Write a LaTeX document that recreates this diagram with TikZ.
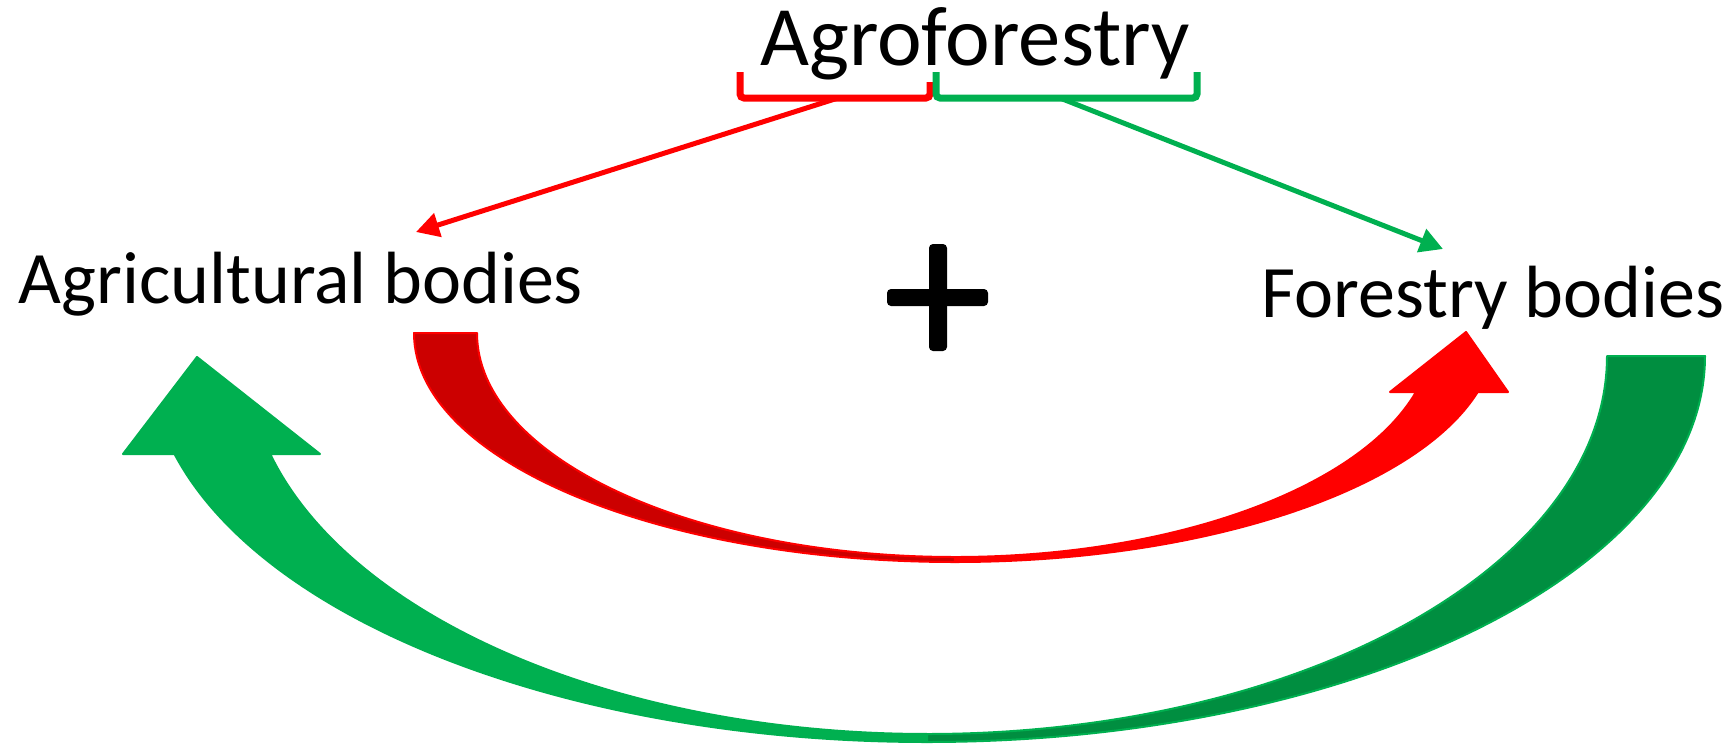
\documentclass[tikz,border=0pt]{standalone}
\usepackage{fontspec}
\setmainfont{Carlito}
\usepackage{tikz}
\usetikzlibrary{arrows.meta}
\usepackage{xcolor}
\definecolor{brightred}{RGB}{255,0,0}
\definecolor{darkred}{RGB}{204,0,0}
\definecolor{brightgreen}{RGB}{0,176,80}
\definecolor{darkgreen}{RGB}{0,142,64}
\tikzset{
  bigtext/.style={font=\fontsize{42.3}{50}\selectfont, inner sep=0pt, anchor=base},
  bodytext/.style={font=\fontsize{37}{44}\selectfont, inner sep=0pt, anchor=base},
  brace/.style={line width=3.5pt, rounded corners=2pt},
  thinarrow/.style={line width=2.5pt, -{Triangle[length=11.5pt,width=12pt]}},
  ribbon/.style={line width=1pt, line join=round}
}

\begin{document}
\begin{tikzpicture}[x=0.5pt, y=-0.5pt]
    \useasboundingbox (0,0) rectangle (1736,745);

    \node[bigtext] (agro) at (975,65) {Agroforestry};
    \node[bodytext] (agri) at (301,303) {Agricultural bodies};
    \node[bodytext] (forest) at (1493,317) {Forestry bodies};

    \draw[brace, brightred] (740,72) -- (740,98) -- (930,98) -- (930,82);
    \draw[brace, brightgreen] (936,72) -- (936,98) -- (1197,98) -- (1197,72);

    \coordinate (redfork) at (838,98);
    \coordinate (greenfork) at (1060,98);
    \coordinate (agritip) at (416,232);
    \coordinate (foresttip) at (1443,249);
    \draw[thinarrow, brightred] (redfork) -- (agritip);
    \draw[thinarrow, brightgreen] (greenfork) -- (foresttip);

    \fill[rounded corners=2pt] (929,244) rectangle (947,351);
    \fill[rounded corners=2pt] (887,289) rectangle (988,306);

    \filldraw[ribbon, fill=darkred, draw=brightred] (414,333)
        arc[start angle=180, end angle=90, x radius=541, y radius=229] -- (955,557)
        arc[start angle=90, end angle=180, x radius=478, y radius=224] -- cycle;
    \filldraw[ribbon, fill=brightred, draw=brightred] (955,562)
        arc[start angle=90, end angle=14.93, x radius=541, y radius=229]
        -- (1508,392) -- (1466,332) -- (1390,392) -- (1416,392)
        arc[start angle=15.27, end angle=90, x radius=478, y radius=224] -- cycle;

    \filldraw[ribbon, fill=darkgreen, draw=brightgreen] (1705,356)
        arc[start angle=0, end angle=90, x radius=778, y radius=386] -- (927,734)
        arc[start angle=90, end angle=0, x radius=680, y radius=378] -- cycle;
    \filldraw[ribbon, fill=brightgreen, draw=brightgreen] (927,742)
        arc[start angle=90, end angle=165.29, x radius=778, y radius=386]
        -- (123,454) -- (197,357) -- (320,454) -- (270.2,454)
        arc[start angle=164.97, end angle=90, x radius=680, y radius=378] -- cycle;
\end{tikzpicture}
\end{document}
